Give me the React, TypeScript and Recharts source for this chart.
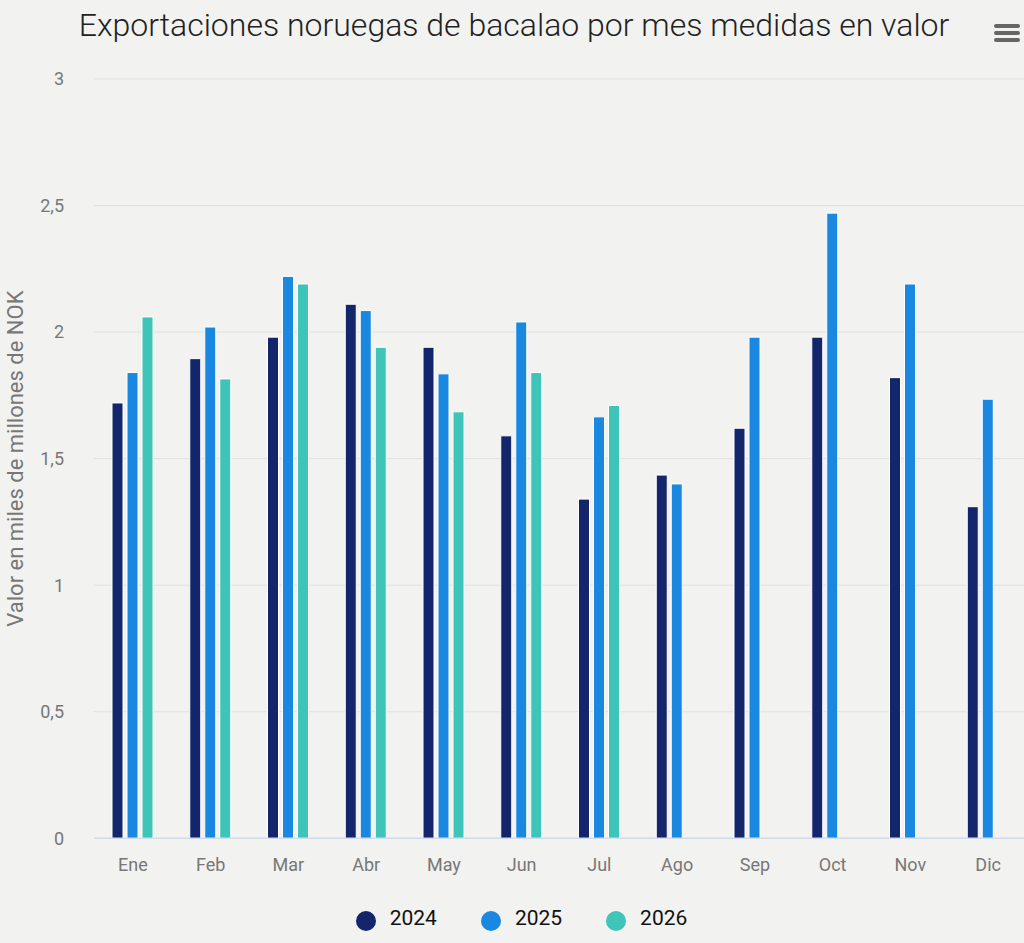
import { Bar, BarChart, CartesianGrid, Legend, XAxis, YAxis } from "recharts";

const MONTHS = ["Ene", "Feb", "Mar", "Abr", "May", "Jun", "Jul", "Ago", "Sep", "Oct", "Nov", "Dic"];
const V2024 = [1.72, 1.895, 1.98, 2.11, 1.94, 1.59, 1.34, 1.435, 1.62, 1.98, 1.82, 1.31];
const V2025 = [1.84, 2.02, 2.22, 2.085, 1.835, 2.04, 1.665, 1.4, 1.98, 2.47, 2.19, 1.735];
const V2026 = [2.06, 1.815, 2.19, 1.94, 1.685, 1.84, 1.71, null, null, null, null, null];
const Y_TICKS = [0, 0.5, 1, 1.5, 2, 2.5, 3];

const data = MONTHS.map((m, i) => ({ month: m, y2024: V2024[i], y2025: V2025[i], y2026: V2026[i] }));

const FONT = "Roboto, 'Noto Sans', sans-serif";

export default function App() {
  return (
    <div
      style={{
        position: "absolute",
        left: 0,
        top: 0,
        width: 1024,
        height: 943,
        overflow: "hidden",
        background: "#f2f2f0",
        fontFamily: FONT,
      }}
    >
      <div
        style={{
          position: "absolute",
          top: 6,
          left: 0,
          width: 1028,
          textAlign: "center",
          fontSize: 32,
          color: "#222",
          fontWeight: 300,
        }}
      >
        Exportaciones noruegas de bacalao por mes medidas en valor
      </div>
      <div style={{ position: "absolute", left: 994, top: 24, width: 26 }}>
        {[0, 1, 2].map((i) => (
          <div key={i} style={{ height: 4, background: "#666", borderRadius: 2, marginBottom: 3 }} />
        ))}
      </div>
      <BarChart
        width={1030}
        height={943}
        data={data}
        margin={{ top: 79, right: 3, left: 0, bottom: 30 }}
        barSize={11}
        barGap={4}
        style={{ position: "absolute", left: 0, top: 0 }}
      >
        <CartesianGrid vertical={false} stroke="#e0e0de" />
        <XAxis
          dataKey="month"
          axisLine={{ stroke: "#ccd6eb" }}
          tickLine={false}
          tick={{ fill: "#777", fontSize: 18, fontFamily: FONT }}
          tickMargin={14}
          height={50}
        />
        <YAxis
          domain={[0, 3]}
          ticks={Y_TICKS}
          width={94}
          axisLine={false}
          tickLine={false}
          tickMargin={24}
          tick={{ fill: "#777", fontSize: 18, fontFamily: FONT }}
          tickFormatter={(v: number) => String(v).replace(".", ",")}
          label={{
            value: "Valor en miles de millones de NOK",
            angle: -90,
            position: "insideLeft",
            dx: 10,
            style: { textAnchor: "middle", fill: "#777", fontSize: 22, fontFamily: FONT },
          }}
        />
        <Legend
          verticalAlign="bottom"
          iconType="circle"
          iconSize={20}
          formatter={(v: string) => (
            <span style={{ color: "#111", fontSize: 21, marginLeft: 10, marginRight: 34 }}>{v}</span>
          )}
          wrapperStyle={{ bottom: 12, left: 30, fontFamily: FONT }}
        />
        <Bar dataKey="y2024" name="2024" fill="#13266b" stroke="#ffffff" strokeWidth={1} isAnimationActive={false} />
        <Bar dataKey="y2025" name="2025" fill="#1a87e0" stroke="#ffffff" strokeWidth={1} isAnimationActive={false} />
        <Bar dataKey="y2026" name="2026" fill="#3ec4b8" stroke="#ffffff" strokeWidth={1} isAnimationActive={false} />
      </BarChart>
    </div>
  );
}
